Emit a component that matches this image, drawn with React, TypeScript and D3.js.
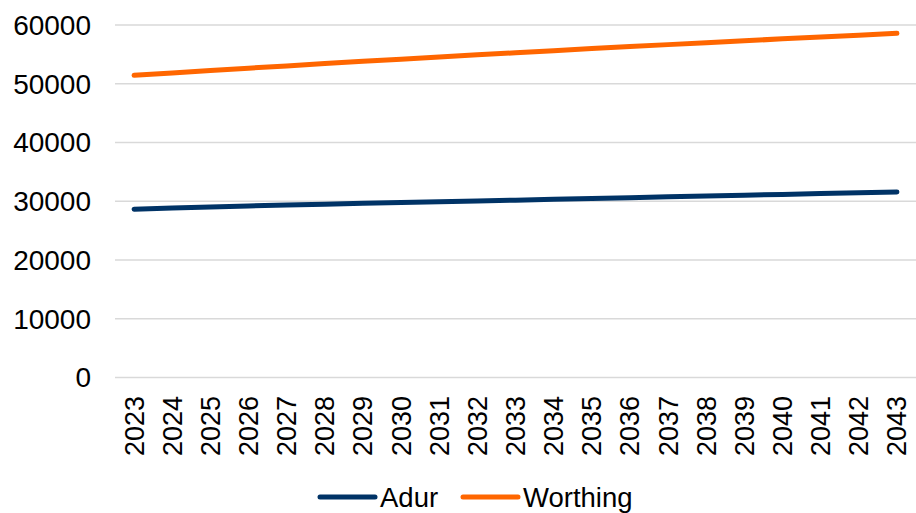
import React from "react";
import * as d3 from "d3";

const years: string[] = [
  "2023", "2024", "2025", "2026", "2027", "2028", "2029", "2030", "2031", "2032", "2033",
  "2034", "2035", "2036", "2037", "2038", "2039", "2040", "2041", "2042", "2043",
];

const adur: number[] = [
  28650, 28850, 29030, 29200, 29360, 29510, 29650, 29790, 29920, 30050, 30190,
  30330, 30470, 30610, 30750, 30890, 31030, 31170, 31310, 31440, 31570,
];

const worthing: number[] = [
  51440, 51850, 52250, 52650, 53040, 53430, 53810, 54190, 54560, 54920, 55280,
  55630, 55980, 56320, 56660, 56990, 57320, 57640, 57960, 58270, 58580,
];

const yTicks: number[] = [0, 10000, 20000, 30000, 40000, 50000, 60000];

const seriesNames: string[] = ["Adur", "Worthing"];
const seriesColors: string[] = ["#003366", "#FF6600"];

const W = 916;
const H = 513;
const FONT = "'Liberation Sans', Arial, sans-serif";

export default function App() {
  const x = d3.scaleBand<string>().domain(years).range([115, 916]).padding(0);
  const y = d3.scaleLinear().domain([0, 60000]).range([377.5, 25]);
  const cx = (yr: string) => (x(yr) as number) + x.bandwidth() / 2;

  const line = d3
    .line<number>()
    .x((_, i) => cx(years[i]))
    .y((v) => y(v));

  const series = [adur, worthing];

  const legendItems = [
    { x0: 320, x1: 375, tx: 380 },
    { x0: 463, x1: 518, tx: 523 },
  ];

  return (
    <svg
      width={W}
      height={H}
      style={{ position: "absolute", left: 0, top: 0, background: "#fff" }}
      fontFamily={FONT}
    >
      {/* horizontal gridlines */}
      {yTicks.map((t) => (
        <line
          key={"g" + t}
          x1={115}
          x2={916}
          y1={y(t)}
          y2={y(t)}
          stroke="#d9d9d9"
          strokeWidth={1.5}
        />
      ))}

      {/* y-axis labels */}
      {yTicks.map((t) => (
        <text
          key={"y" + t}
          x={91}
          y={y(t)}
          dy="0.35em"
          textAnchor="end"
          fontSize={28}
          fill="#000"
        >
          {t}
        </text>
      ))}

      {/* x-axis labels, rotated */}
      {years.map((yr) => (
        <text
          key={"x" + yr}
          transform={`translate(${cx(yr)},396) rotate(-90)`}
          dy="0.35em"
          textAnchor="end"
          fontSize={27}
          fill="#000"
        >
          {yr}
        </text>
      ))}

      {/* series lines */}
      {series.map((s, i) => (
        <path
          key={"s" + i}
          d={line(s) || ""}
          fill="none"
          stroke={seriesColors[i]}
          strokeWidth={5}
          strokeLinecap="round"
          strokeLinejoin="round"
        />
      ))}

      {/* legend */}
      {seriesNames.map((name, i) => (
        <g key={"l" + name}>
          <line
            x1={legendItems[i].x0}
            x2={legendItems[i].x1}
            y1={497}
            y2={497}
            stroke={seriesColors[i]}
            strokeWidth={5}
            strokeLinecap="round"
          />
          <text x={legendItems[i].tx} y={507} fontSize={27.5} fill="#000">
            {name}
          </text>
        </g>
      ))}
    </svg>
  );
}
